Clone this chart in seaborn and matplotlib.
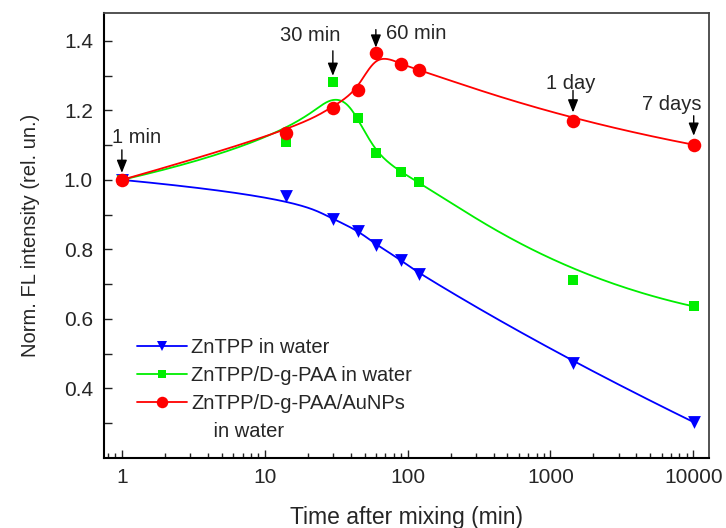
import numpy as np
import matplotlib
matplotlib.use("Agg")
import matplotlib.pyplot as plt
from matplotlib.lines import Line2D
from matplotlib.ticker import FixedLocator, LogLocator, NullFormatter, FormatStrFormatter
import pandas as pd
import seaborn as sns

# 数据 (时间单位: min)
time_min = [1, 14, 30, 45, 60, 90, 120, 1440, 10080]
znTPP = [1.0, 0.955, 0.888, 0.854, 0.814, 0.770, 0.728, 0.473, 0.303]
znTPP_paa = [1.0, 1.108, 1.282, 1.178, 1.076, 1.022, 0.993, 0.713, 0.636]
znTPP_paa_au = [1.0, 1.134, 1.208, 1.258, 1.366, 1.333, 1.316, 1.168, 1.101]

series_names = ["ZnTPP in water",
                "ZnTPP/D-g-PAA in water",
                "ZnTPP/D-g-PAA/AuNPs"]
series_values = [znTPP, znTPP_paa, znTPP_paa_au]
series_colors = ["#0000ff", "#00ee00", "#ff0000"]
series_markers = ["v", "s", "o"]
series_msize = [85, 48, 95]

xtick_vals = [1, 10, 100, 1000, 10000]
xtick_labels = ["1", "10", "100", "1000", "10000"]
ytick_vals = [0.4, 0.6, 0.8, 1.0, 1.2, 1.4]
ytick_minor = [0.3, 0.5, 0.7, 0.9, 1.1, 1.3]

# 箭头标注: (文字, 时间, 所在曲线)
notes = [("1 min", 1, 0), ("30 min", 30, 1), ("60 min", 60, 2),
         ("1 day", 1440, 2), ("7 days", 10080, 2)]


def bspline(cx, cy, k=3, num=400):
    # 夹紧均匀 B 样条, 数据点作为控制点 (类似 Origin 的 B-Spline 连线)
    cx = np.asarray(cx, float)
    cy = np.asarray(cy, float)
    n = len(cx)
    inner = np.linspace(0, 1, n - k + 1)
    knots = np.concatenate([np.zeros(k), inner, np.ones(k)])
    u = np.linspace(0, 1, num)
    u[-1] = 1 - 1e-12
    N = np.zeros((num, len(knots) - 1))
    for i in range(len(knots) - 1):
        N[:, i] = (u >= knots[i]) & (u < knots[i + 1])
    for d in range(1, k + 1):
        Nn = np.zeros((num, len(knots) - 1 - d))
        for i in range(len(knots) - 1 - d):
            a = 0.0
            den1 = knots[i + d] - knots[i]
            den2 = knots[i + d + 1] - knots[i + 1]
            if den1 > 0:
                a = a + (u - knots[i]) / den1 * N[:, i]
            if den2 > 0:
                a = a + (knots[i + d + 1] - u) / den2 * N[:, i + 1]
            Nn[:, i] = a
        N = Nn
    return N @ cx, N @ cy


sns.set_style("ticks")
plt.rcParams["font.family"] = ["Liberation Sans", "DejaVu Sans"]
plt.rcParams["font.size"] = 14

fig = plt.figure(figsize=(7.26, 5.28), dpi=100)
ax = fig.add_axes([0.1433, 0.1326, 0.8333, 0.8428])

lx = np.log10(time_min)
for name, vals, col, mk, ms in zip(series_names, series_values, series_colors,
                                   series_markers, series_msize):
    sx, sy = bspline(lx, vals)
    curve = pd.DataFrame({"t": 10 ** sx, "v": sy})
    sns.lineplot(data=curve, x="t", y="v", color=col, lw=1.3, sort=False,
                 estimator=None, ax=ax, legend=False)
    pts = pd.DataFrame({"t": time_min, "v": vals})
    sns.scatterplot(data=pts, x="t", y="v", color=col, marker=mk, s=ms,
                    linewidth=0, ax=ax, legend=False, zorder=3)

ax.set_xscale("log")
ax.set_xlim(0.75, 12900)
ax.set_ylim(0.2, 1.48)
ax.xaxis.set_major_locator(FixedLocator(xtick_vals))
ax.set_xticklabels(xtick_labels)
ax.xaxis.set_minor_locator(LogLocator(base=10, subs=np.arange(2, 10)))
ax.xaxis.set_minor_formatter(NullFormatter())
ax.yaxis.set_major_locator(FixedLocator(ytick_vals))
ax.yaxis.set_minor_locator(FixedLocator(ytick_minor))
ax.yaxis.set_major_formatter(FormatStrFormatter("%.1f"))

ax.tick_params(which="both", direction="in", top=False, right=False,
               labelsize=15, width=1.0, color="#222222")
ax.tick_params(axis="y", which="both", length=6)
ax.tick_params(axis="x", which="major", length=6)
ax.tick_params(axis="x", which="minor", length=3.5)
ax.tick_params(axis="x", pad=7)
ax.tick_params(axis="y", pad=8)

for s in ["left", "bottom"]:
    ax.spines[s].set_linewidth(1.5)
    ax.spines[s].set_color("black")
for s in ["top", "right"]:
    ax.spines[s].set_linewidth(1.3)
    ax.spines[s].set_color("#444444")

ax.set_xlabel("Time after mixing (min)", fontsize=16.5, labelpad=14)
ax.set_ylabel("Norm. FL intensity (rel. un.)", fontsize=14.5, labelpad=17)

# 箭头与文字 (相对数据点的像素偏移)
arrow_off = {"1 min": (7, 30), "30 min": (6, 31), "60 min": (5, 23),
             "1 day": (9, 31), "7 days": (9, 29)}
text_off = {"1 min": (15, 42, "center"), "30 min": (-23, 46, "center"),
            "60 min": (10, 19, "left"), "1 day": (-2, 38, "center"),
            "7 days": (-22, 40, "center")}
for txt, t, si in notes:
    v = series_values[si][time_min.index(t)]
    a0, a1 = arrow_off[txt]
    ax.annotate("", xy=(t, v), xycoords="data",
                xytext=(0, a1), textcoords="offset pixels",
                arrowprops=dict(arrowstyle="-|>,head_length=0.55,head_width=0.22",
                                color="black", lw=1.0, shrinkA=0,
                                shrinkB=a0 * 0.72))
    dx, dy, ha = text_off[txt]
    ax.annotate(txt, xy=(t, v), xycoords="data", xytext=(dx, dy),
                textcoords="offset pixels", ha=ha, va="center", fontsize=14.5)

handles = [Line2D([], [], color=c, marker=m, lw=1.3,
                  markersize=np.sqrt(s) * 0.85, markeredgewidth=0)
           for c, m, s in zip(series_colors, series_markers, series_msize)]
# 第三条图例的第二行文字
handles.append(Line2D([], [], lw=0, marker=None))
labels = series_names + ["    in water"]
ax.legend(handles, labels, loc="upper left", bbox_to_anchor=(0.038, 0.292),
          frameon=False, handlelength=2.5, handletextpad=0.2,
          labelspacing=0.45, borderpad=0, fontsize=14.5)

fig.savefig("out.png", dpi=100)
